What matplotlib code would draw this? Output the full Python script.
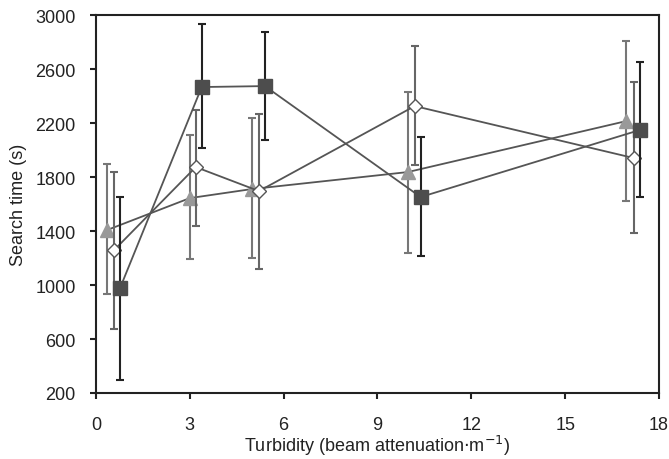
import matplotlib.pyplot as plt
import numpy as np

plt.rcParams['font.family'] = ['Liberation Sans', 'DejaVu Sans']

# triangles
tri_x = [0.35, 3.0, 4.98, 9.97, 16.96]
tri_y = [1407, 1644, 1711, 1837, 2215]
tri_lo = [933, 1193, 1200, 1237, 1622]
tri_hi = [1896, 2111, 2237, 2430, 2807]

# diamonds
dia_x = [0.58, 3.19, 5.21, 10.19, 17.19]
dia_y = [1259, 1874, 1696, 2326, 1941]
dia_lo = [674, 1437, 1119, 1889, 1385]
dia_hi = [1837, 2300, 2267, 2770, 2504]

# squares
sq_x = [0.77, 3.38, 5.40, 10.38, 17.38]
sq_y = [978, 2467, 2474, 1652, 2148]
sq_lo = [296, 2015, 2074, 1215, 1652]
sq_hi = [1652, 2933, 2874, 2096, 2652]

xticks = [0, 3, 6, 9, 12, 15, 18]
yticks = [200, 600, 1000, 1400, 1800, 2200, 2600, 3000]

fig = plt.figure(figsize=(6.69, 4.60), dpi=100)
ax = fig.add_axes([0.1435, 0.1435, 0.8415, 0.8215])

def draw(x, y, lo, hi, marker, face, ms, ecolor, z):
    y = np.array(y)
    err = [y - np.array(lo), np.array(hi) - y]
    ax.errorbar(x, y, yerr=err, fmt='none', ecolor=ecolor, elinewidth=1.5,
                capsize=3, capthick=1.5, zorder=z)
    ax.plot(x, y, color='#555555', lw=1.3, zorder=z + 0.5)
    ax.plot(x, y, linestyle='none', marker=marker, ms=ms, mfc=face,
            mec='#555555' if face == 'white' else face, mew=1.0, zorder=z + 1)

draw(tri_x, tri_y, tri_lo, tri_hi, '^', '#999999', 10, '#777777', 2)
draw(dia_x, dia_y, dia_lo, dia_hi, 'D', 'white', 7, '#666666', 3)
draw(sq_x, sq_y, sq_lo, sq_hi, 's', '#4d4d4d', 9.5, '#222222', 4)

ax.set_xlim(0, 18)
ax.set_ylim(200, 3000)
ax.set_xticks(xticks)
ax.set_yticks(yticks)
for s in ax.spines.values():
    s.set_linewidth(1.5)
    s.set_color('#222222')
ax.tick_params(axis='both', direction='out', length=4.5, width=1.5,
               labelsize=13, colors='#222222', top=False, right=False)
ax.tick_params(axis='x', pad=12)
ax.tick_params(axis='y', pad=10)
ax.set_xlabel('Turbidity (beam attenuation$\\cdot$m$^{-1}$)', fontsize=13,
              color='#222222', labelpad=0)
ax.set_ylabel('Search time (s)', fontsize=13, color='#222222', labelpad=6)

fig.savefig('out.png', dpi=100)
